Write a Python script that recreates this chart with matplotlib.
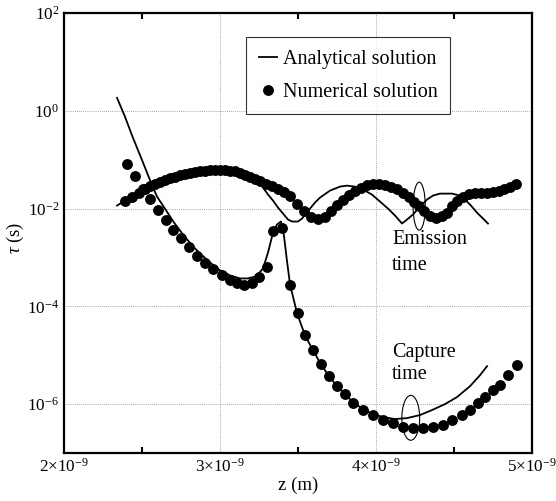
import matplotlib
matplotlib.use("Agg")
import matplotlib.pyplot as plt
from matplotlib.patches import Ellipse
from matplotlib.ticker import FixedLocator, FuncFormatter
import numpy as np

plt.rcParams.update(
    {
        "font.family": ["Liberation Serif", "DejaVu Serif"],
        "mathtext.fontset": "custom",
        "mathtext.rm": "Liberation Serif",
        "mathtext.it": "Liberation Serif:italic",
        "font.size": 13,
    }
)

# z in nm (x 1e-9 m), tau given as log10(tau / s)
ana_cap_z = [2.340, 2.391, 2.442, 2.494, 2.545, 2.596, 2.647, 2.705, 2.763, 2.821,
             2.872, 2.936, 3.000, 3.064, 3.128, 3.179, 3.231, 3.276, 3.308, 3.340,
             3.365, 3.391, 3.410, 3.429, 3.449, 3.494, 3.545, 3.596, 3.647, 3.699,
             3.750, 3.801, 3.853, 3.917, 3.981, 4.045, 4.122, 4.199, 4.282, 4.359,
             4.442, 4.519, 4.603, 4.667, 4.712]
ana_cap_log = [0.265, -0.122, -0.551, -0.959, -1.367, -1.755, -2.000, -2.286, -2.531, -2.755,
               -2.918, -3.102, -3.265, -3.367, -3.429, -3.429, -3.388, -3.224, -2.898, -2.490,
               -2.327, -2.265, -2.551, -3.061, -3.551, -4.143, -4.592, -4.898, -5.184, -5.429,
               -5.633, -5.796, -5.959, -6.102, -6.204, -6.265, -6.306, -6.286, -6.224, -6.122,
               -6.000, -5.857, -5.633, -5.408, -5.224]

ana_emi_z = [2.340, 2.391, 2.455, 2.519, 2.583, 2.647, 2.744, 2.840, 2.936, 3.032,
             3.128, 3.192, 3.237, 3.276, 3.308, 3.340, 3.372, 3.404, 3.436, 3.462,
             3.500, 3.526, 3.551, 3.577, 3.609, 3.641, 3.705, 3.769, 3.814, 3.865,
             3.929, 3.974, 4.026, 4.077, 4.122, 4.167, 4.199, 4.237, 4.282, 4.327,
             4.365, 4.410, 4.487, 4.538, 4.577, 4.609, 4.647, 4.686, 4.718]
ana_emi_log = [-1.939, -1.837, -1.694, -1.571, -1.469, -1.388, -1.306, -1.245, -1.224, -1.224,
               -1.245, -1.306, -1.429, -1.571, -1.714, -1.837, -1.980, -2.102, -2.224, -2.265,
               -2.265, -2.204, -2.102, -2.000, -1.878, -1.776, -1.633, -1.551, -1.531, -1.551,
               -1.633, -1.714, -1.857, -2.000, -2.143, -2.306, -2.224, -2.122, -1.959, -1.816,
               -1.735, -1.694, -1.694, -1.735, -1.837, -1.939, -2.082, -2.204, -2.306]

num_cap_z = [2.404, 2.455, 2.506, 2.551, 2.603, 2.654, 2.699, 2.750, 2.801, 2.853,
             2.904, 2.955, 3.013, 3.064, 3.109, 3.154, 3.205, 3.250, 3.301, 3.340,
             3.397, 3.449, 3.500, 3.545, 3.596, 3.647, 3.699, 3.750, 3.801, 3.853,
             3.917, 3.981, 4.045, 4.109, 4.173, 4.237, 4.301, 4.365, 4.429, 4.487,
             4.551, 4.603, 4.654, 4.699, 4.750, 4.795, 4.846, 4.904]
num_cap_log = [-1.082, -1.327, -1.592, -1.796, -2.020, -2.224, -2.429, -2.612, -2.796, -2.980,
               -3.122, -3.245, -3.367, -3.469, -3.531, -3.571, -3.531, -3.408, -3.204, -2.449,
               -2.388, -3.571, -4.143, -4.592, -4.898, -5.184, -5.429, -5.633, -5.796, -5.980,
               -6.122, -6.224, -6.327, -6.388, -6.469, -6.490, -6.490, -6.469, -6.429, -6.327,
               -6.224, -6.122, -5.980, -5.857, -5.714, -5.612, -5.408, -5.204]

num_emi_z = [2.391, 2.436, 2.481, 2.519, 2.551, 2.583, 2.615, 2.647, 2.679, 2.712,
             2.744, 2.776, 2.808, 2.840, 2.872, 2.904, 2.936, 2.968, 3.000, 3.032,
             3.064, 3.096, 3.128, 3.160, 3.192, 3.224, 3.256, 3.295, 3.333, 3.372,
             3.410, 3.449, 3.494, 3.538, 3.583, 3.628, 3.673, 3.712, 3.750, 3.788,
             3.827, 3.865, 3.904, 3.942, 3.981, 4.019, 4.058, 4.096, 4.135, 4.173,
             4.212, 4.244, 4.276, 4.308, 4.346, 4.385, 4.423, 4.455, 4.487, 4.519,
             4.558, 4.596, 4.635, 4.673, 4.712, 4.750, 4.788, 4.821, 4.859, 4.897]
num_emi_log = [-1.837, -1.755, -1.673, -1.592, -1.531, -1.490, -1.449, -1.408, -1.367, -1.347,
               -1.306, -1.286, -1.265, -1.245, -1.224, -1.224, -1.204, -1.204, -1.204, -1.204,
               -1.224, -1.224, -1.265, -1.306, -1.347, -1.388, -1.429, -1.490, -1.531, -1.592,
               -1.653, -1.735, -1.898, -2.041, -2.163, -2.204, -2.163, -2.041, -1.918, -1.816,
               -1.714, -1.633, -1.571, -1.510, -1.490, -1.490, -1.510, -1.551, -1.592, -1.673,
               -1.755, -1.857, -1.939, -2.041, -2.143, -2.184, -2.143, -2.082, -1.939, -1.837,
               -1.755, -1.694, -1.673, -1.673, -1.673, -1.653, -1.633, -1.592, -1.551, -1.490]

x_ticks = [2e-9, 3e-9, 4e-9, 5e-9]
x_ticklabels = [r"$2{\times}10^{-9}$", r"$3{\times}10^{-9}$",
                r"$4{\times}10^{-9}$", r"$5{\times}10^{-9}$"]
y_ticks = [1e-6, 1e-4, 1e-2, 1e0, 1e2]


def zz(v):
    return np.array(v) * 1e-9


def tt(v):
    return 10.0 ** np.array(v)


fig = plt.figure(figsize=(5.56, 5.01), dpi=100)
ax = fig.add_axes([0.1151, 0.0958, 0.8417, 0.8782])

lw = 1.3
ax.plot(zz(ana_cap_z), tt(ana_cap_log), color="black", lw=lw, zorder=2,
        label="Analytical solution")
ax.plot(zz(ana_emi_z), tt(ana_emi_log), color="black", lw=lw, zorder=2)
ax.plot(zz(num_cap_z), tt(num_cap_log), "o", color="black", ms=6.8, zorder=3,
        label="Numerical solution")
ax.plot(zz(num_emi_z), tt(num_emi_log), "o", color="black", ms=6.8, zorder=3)

ax.set_yscale("log")
ax.set_xlim(2e-9, 5e-9)
ax.set_ylim(1e-7, 1e2)

ax.xaxis.set_major_locator(FixedLocator(x_ticks))
ax.set_xticklabels(x_ticklabels)
ax.xaxis.set_minor_locator(FixedLocator([2.5e-9, 3.5e-9, 4.5e-9]))
ax.yaxis.set_major_locator(FixedLocator(y_ticks))
ax.yaxis.set_minor_locator(FixedLocator([]))
ax.yaxis.set_major_formatter(
    FuncFormatter(lambda v, p: r"$10^{%d}$" % int(round(np.log10(v)))))
ax.tick_params(axis="both", which="major", length=0, pad=3.5, labelsize=12.3)
ax.tick_params(axis="x", which="minor", direction="in", length=4, width=1.5,
               top=True, bottom=True)

ax.grid(True, which="major", linestyle=(0, (1, 1.5)), color="#888888", lw=0.6)
for s in ax.spines.values():
    s.set_linewidth(1.6)

ax.set_xlabel("z (m)", fontsize=13.5, labelpad=1)
ax.set_ylabel(r"$\tau$ (s)", fontsize=13.5)
ax.yaxis.set_label_coords(-0.082, 0.49)

leg = ax.legend(loc="upper left", bbox_to_anchor=(0.389, 0.945), fontsize=14.5,
                frameon=True, fancybox=False, edgecolor="black",
                handlelength=0.9, handleheight=0.7, handletextpad=0.3,
                labelspacing=0.68, borderpad=0.63, borderaxespad=0.0,
                numpoints=1)
leg.get_frame().set_linewidth(0.8)

ax.text(0.701, 0.506, "Emission\ntime", transform=ax.transAxes, fontsize=14.5,
        va="top", ha="left", linespacing=1.5)
ax.text(0.701, 0.250, "Capture\ntime", transform=ax.transAxes, fontsize=14.5,
        va="top", ha="left", linespacing=1.2)

ax.add_patch(Ellipse((0.759, 0.561), 0.026, 0.109, transform=ax.transAxes,
                     fill=False, edgecolor="black", lw=0.8, zorder=4))
ax.add_patch(Ellipse((0.741, 0.080), 0.038, 0.102, transform=ax.transAxes,
                     fill=False, edgecolor="black", lw=0.8, zorder=4))

fig.savefig("out.png", dpi=100)
